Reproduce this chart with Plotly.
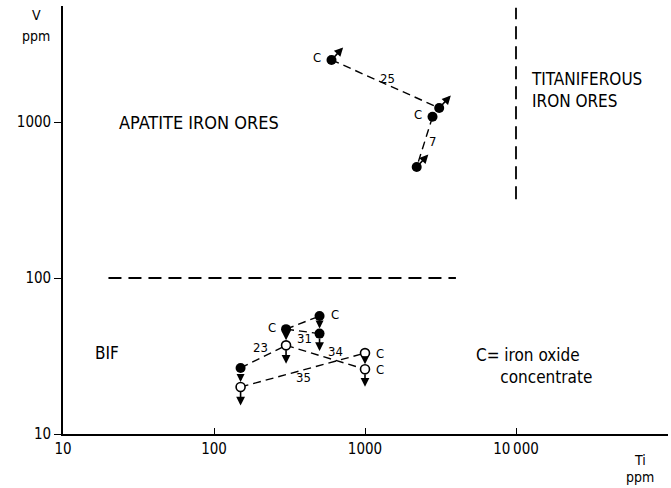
import math
import plotly.graph_objects as go

# --- data (Ti ppm, V ppm) ---
# apatite iron ores: sample lines 25 and 7
ap_ti = [600, 3100, 2800, 2200]
ap_v = [2500, 1230, 1080, 515]
ap_conc = [True, False, True, False]

# BIF samples: filled symbols
bif_fill_ti = [150, 300, 500, 500]
bif_fill_v = [26.5, 47, 57, 44]
bif_fill_conc = [False, True, True, False]

# BIF samples: open symbols (upper limits)
bif_open_ti = [150, 300, 1000, 1000]
bif_open_v = [20, 37, 33, 26]
bif_open_conc = [False, False, True, True]

# boundaries between ore types
bound_h_ti = [20, 4000]
bound_h_v = [100, 100]
bound_v_ti = [10000, 10000]
bound_v_v = [320, 5400]

x_ticks = [10, 100, 1000, 10000]
x_ticktext = ["10", "100", "1000", "10\u2009000"]
y_ticks = [10, 100, 1000]
y_ticktext = ["10", "100", "1000"]

FONT = "Liberation Sans Narrow, DejaVu Sans Condensed, Arial Narrow, sans-serif"
INK = "black"
DASH = "8px,5px"
DASH_BOUND = "13px,7px"

# plot area in pixels
L, R, T, B = 63, 668, 6, 434
W, H = 671, 488
X_DEC, Y_DEC = 151, 156  # pixels per decade

lg = math.log10  # annotations on log axes take log10 positions


def px(xp):
    return (xp - L) / (R - L)


def py(yp):
    return (B - yp) / (B - T)


fig = go.Figure()


def dashed(xs, ys, width=1.4, dash=DASH):
    fig.add_trace(go.Scatter(x=xs, y=ys, mode="lines",
                             line=dict(color=INK, width=width, dash=dash),
                             hoverinfo="skip", showlegend=False))


# boundary lines
dashed(bound_h_ti, bound_h_v, 1.8, DASH_BOUND)
dashed(bound_v_ti, bound_v_v, 1.8, DASH_BOUND)

# connecting lines for each sample
dashed([ap_ti[0], ap_ti[1]], [ap_v[0], ap_v[1]])               # 25
dashed([ap_ti[2], ap_ti[3]], [ap_v[2], ap_v[3]])               # 7
dashed([bif_fill_ti[0], bif_open_ti[1]], [bif_fill_v[0], bif_open_v[1]])   # 23
dashed([bif_fill_ti[1], bif_fill_ti[2]], [bif_fill_v[1], bif_fill_v[2]])   # 31
dashed([bif_fill_ti[1], bif_fill_ti[3]], [bif_fill_v[1], bif_fill_v[3]])
dashed([bif_open_ti[1], bif_open_ti[3]], [bif_open_v[1], bif_open_v[3]])   # 34
dashed([bif_open_ti[0], bif_open_ti[2]], [bif_open_v[0], bif_open_v[2]])   # 35

# markers
fig.add_trace(go.Scatter(x=ap_ti, y=ap_v, mode="markers",
                         marker=dict(size=10, color=INK),
                         hoverinfo="skip", showlegend=False))
fig.add_trace(go.Scatter(x=bif_fill_ti, y=bif_fill_v, mode="markers",
                         marker=dict(size=10, color=INK),
                         hoverinfo="skip", showlegend=False))
fig.add_trace(go.Scatter(x=bif_open_ti, y=bif_open_v, mode="markers",
                         marker=dict(size=9, color="white",
                                     line=dict(color=INK, width=1.6)),
                         hoverinfo="skip", showlegend=False))

ann = []


def arrow_out(x, y, dx, dy, standoff=0):
    # arrow leaving a point (x, y), head at pixel offset (dx, dy)
    ann.append(dict(x=lg(x), y=lg(y), xref="x", yref="y", ax=dx, ay=dy,
                    axref="pixel", ayref="pixel", text="", showarrow=True,
                    arrowside="start", arrowhead=2, startarrowhead=2,
                    arrowsize=1, startarrowsize=1.1, arrowwidth=1.6,
                    arrowcolor=INK, standoff=standoff))


def arrow_between(x0, y0, x1, y1):
    # arrow from (x0, y0) down to the symbol at (x1, y1)
    ann.append(dict(x=lg(x1), y=lg(y1), xref="x", yref="y",
                    ax=lg(x0), ay=lg(y0), axref="x", ayref="y",
                    text="", showarrow=True,
                    arrowhead=2, arrowsize=1, arrowwidth=1.6, arrowcolor=INK,
                    standoff=5, startstandoff=5))


# apatite ores: arrows toward higher Ti and V
for i in (0, 1, 3):
    arrow_out(ap_ti[i], ap_v[i], 13, -14)

# BIF: filled -> open and downward arrows
arrow_between(bif_fill_ti[0], bif_fill_v[0], bif_open_ti[0], bif_open_v[0])
arrow_between(bif_fill_ti[1], bif_fill_v[1], bif_open_ti[1], bif_open_v[1])
arrow_between(bif_fill_ti[2], bif_fill_v[2], bif_fill_ti[3], bif_fill_v[3])
arrow_between(bif_open_ti[2], bif_open_v[2], bif_open_ti[3], bif_open_v[3])
arrow_out(bif_open_ti[0], bif_open_v[0], 0, 20, standoff=5)
arrow_out(bif_open_ti[1], bif_open_v[1], 0, 20, standoff=5)
arrow_out(bif_fill_ti[3], bif_fill_v[3], 0, 19, standoff=5)
arrow_out(bif_open_ti[3], bif_open_v[3], 0, 19, standoff=5)


def label(x, y, text, size=14, xanchor="center", xshift=0, yshift=0):
    ann.append(dict(x=lg(x), y=lg(y), xref="x", yref="y", text=text,
                    showarrow=False, xanchor=xanchor, yanchor="middle",
                    xshift=xshift, yshift=yshift,
                    font=dict(family=FONT, size=size, color=INK)))


# "C" marks for iron oxide concentrates
for t, v, c in zip(ap_ti, ap_v, ap_conc):
    if c:
        label(t, v, "C", 13, "right", -9, 2)
for t, v, c in zip(bif_fill_ti, bif_fill_v, bif_fill_conc):
    if c:
        label(t, v, "C", 13, "right" if t < 400 else "left",
              -8 if t < 400 else 9, 2)
for t, v, c in zip(bif_open_ti, bif_open_v, bif_open_conc):
    if c:
        label(t, v, "C", 13, "left", 9, 0)

# sample numbers
label(1400, 1900, "25", 13)
label(2800, 750, "7", 13)
label(202, 36, "23", 13)
label(400, 41, "31", 13)
label(640, 34, "34", 13)
label(390, 23, "35", 13)

# field names
label(80, 1000, "APATITE IRON ORES", 18)
label(19.5, 33, "BIF", 17)
ann.append(dict(x=px(529), y=py(90), xref="paper", yref="paper",
                text="TITANIFEROUS<br>IRON ORES", showarrow=False,
                xanchor="left", yanchor="middle", align="left",
                font=dict(family=FONT, size=17, color=INK)))
ann.append(dict(x=px(474), y=py(366), xref="paper", yref="paper",
                text="C= iron oxide<br>     concentrate", showarrow=False,
                xanchor="left", yanchor="middle", align="left",
                font=dict(family=FONT, size=17, color=INK)))

# axis titles
for txt, xp, yp in (("V", 36, 15), ("ppm", 36, 36),
                    ("Ti", 640, 460), ("ppm", 640, 477)):
    ann.append(dict(x=px(xp), y=py(yp), xref="paper", yref="paper",
                    text=txt, showarrow=False,
                    xanchor="center", yanchor="middle",
                    font=dict(family=FONT, size=14, color=INK)))

fig.update_layout(
    width=W, height=H,
    margin=dict(l=L, r=W - R, t=T, b=H - B),
    plot_bgcolor="white", paper_bgcolor="white",
    annotations=ann,
    showlegend=False,
)
fig.update_xaxes(type="log", range=[1, 1 + (R - L) / X_DEC],
                 tickvals=x_ticks, ticktext=x_ticktext,
                 ticks="inside", ticklen=6, tickwidth=1.4, tickcolor=INK,
                 showline=True, linecolor=INK, linewidth=1.6,
                 showgrid=False, zeroline=False,
                 tickfont=dict(family=FONT, size=15, color=INK))
fig.update_yaxes(type="log", range=[1, 1 + (B - T) / Y_DEC],
                 tickvals=y_ticks, ticktext=y_ticktext,
                 ticks="outside", ticklen=7, tickwidth=1.4, tickcolor=INK,
                 showline=True, linecolor=INK, linewidth=1.6,
                 showgrid=False, zeroline=False,
                 tickfont=dict(family=FONT, size=15, color=INK))

fig.write_html("out.html")
